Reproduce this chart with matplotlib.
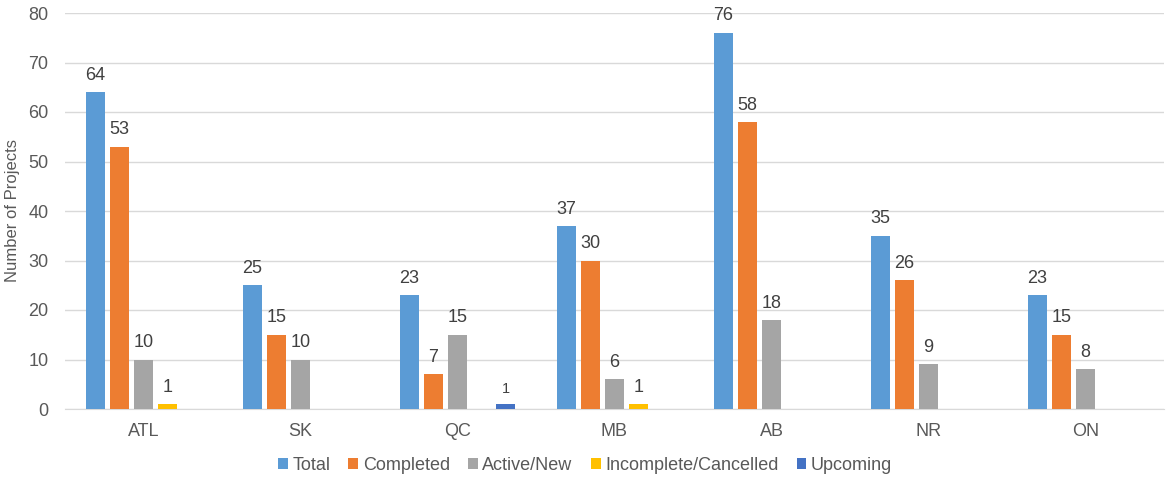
import matplotlib
matplotlib.use("Agg")
import matplotlib.pyplot as plt
import numpy as np

categories = ["ATL", "SK", "QC", "MB", "AB", "NR", "ON"]
series_names = ["Total", "Completed", "Active/New", "Incomplete/Cancelled", "Upcoming"]
total = [64, 25, 23, 37, 76, 35, 23]
completed = [53, 15, 7, 30, 58, 26, 15]
active_new = [10, 10, 15, 6, 18, 9, 8]
incomplete = [1, 0, 0, 1, 0, 0, 0]
upcoming = [0, 0, 1, 0, 0, 0, 0]
colors = ["#5B9BD5", "#ED7D31", "#A5A5A5", "#FFC000", "#4472C4"]

plt.rcParams['font.family'] = ['Liberation Sans', 'DejaVu Sans']
txt = "#595959"

fig = plt.figure(figsize=(11.7, 4.79), dpi=100)
ax = fig.add_axes([65/1170, 1 - 409/479, 1099/1170, 396/479])

x = np.arange(len(categories))
slot = 0.153
bw = 0.121
data = [total, completed, active_new, incomplete, upcoming]
for i, (name, vals, c) in enumerate(zip(series_names, data, colors)):
    pos = x + (i - 2) * slot
    ax.bar(pos, vals, width=bw, color=c, label=name, zorder=3)
    for p, v in zip(pos, vals):
        if v > 0:
            fs = 10.5 if i == 4 else 13
            ax.annotate(str(v), (p, v), xytext=(0, 6), textcoords="offset points",
                        ha="center", va="bottom", fontsize=fs, color="#404040")

ax.set_xlim(-0.5, len(categories) - 0.5)
ax.set_ylim(0, 80)
ax.set_yticks(range(0, 81, 10))
ax.set_xticks(x)
ax.set_xticklabels(categories)
ax.tick_params(axis='both', length=0, labelsize=13, colors=txt)
ax.tick_params(axis='x', pad=10)
ax.tick_params(axis='y', pad=12)
ax.grid(axis='y', color="#D9D9D9", linewidth=1, zorder=0)
for s in ["top", "right", "left"]:
    ax.spines[s].set_visible(False)
ax.spines["bottom"].set_color("#D9D9D9")
ax.set_ylabel("Number of Projects", fontsize=12, color=txt, labelpad=6)

leg = fig.legend(loc="center", bbox_to_anchor=(0.5, 1 - 465/479), ncol=5, frameon=False,
                 fontsize=13, handlelength=0.55, handleheight=0.55, handletextpad=0.25,
                 columnspacing=1.0)
for t in leg.get_texts():
    t.set_color(txt)

fig.savefig("out.png", dpi=100)
